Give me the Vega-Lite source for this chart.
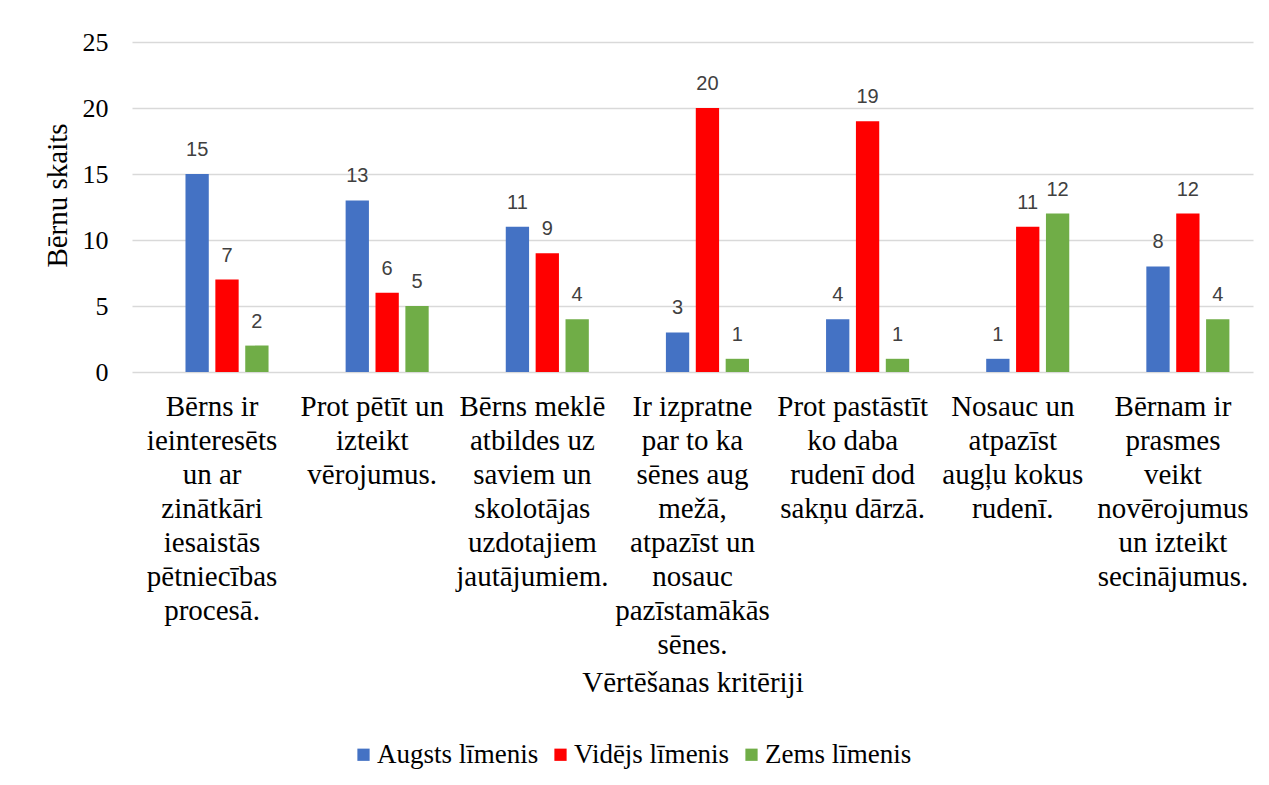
{
  "$schema": "https://vega.github.io/schema/vega-lite/v6.json",
  "autosize": {"type": "none"},
  "width": 1121,
  "height": 330,
  "padding": {"left": 132, "top": 42, "right": 16, "bottom": 413},
  "background": "white",
  "config": {
    "view": {"stroke": null},
    "font": "Liberation Serif"
  },
  "data": {
    "values": [
      {"k": "Bērns ir\nieinteresēts\nun ar\nzinātkāri\niesaistās\npētniecības\nprocesā.", "l": "Augsts līmenis", "v": 15},
      {"k": "Bērns ir\nieinteresēts\nun ar\nzinātkāri\niesaistās\npētniecības\nprocesā.", "l": "Vidējs līmenis", "v": 7},
      {"k": "Bērns ir\nieinteresēts\nun ar\nzinātkāri\niesaistās\npētniecības\nprocesā.", "l": "Zems līmenis", "v": 2},
      {"k": "Prot pētīt un\nizteikt\nvērojumus.", "l": "Augsts līmenis", "v": 13},
      {"k": "Prot pētīt un\nizteikt\nvērojumus.", "l": "Vidējs līmenis", "v": 6},
      {"k": "Prot pētīt un\nizteikt\nvērojumus.", "l": "Zems līmenis", "v": 5},
      {"k": "Bērns meklē\natbildes uz\nsaviem un\nskolotājas\nuzdotajiem\njautājumiem.", "l": "Augsts līmenis", "v": 11},
      {"k": "Bērns meklē\natbildes uz\nsaviem un\nskolotājas\nuzdotajiem\njautājumiem.", "l": "Vidējs līmenis", "v": 9},
      {"k": "Bērns meklē\natbildes uz\nsaviem un\nskolotājas\nuzdotajiem\njautājumiem.", "l": "Zems līmenis", "v": 4},
      {"k": "Ir izpratne\npar to ka\nsēnes aug\nmežā,\natpazīst un\nnosauc\npazīstamākās\nsēnes.", "l": "Augsts līmenis", "v": 3},
      {"k": "Ir izpratne\npar to ka\nsēnes aug\nmežā,\natpazīst un\nnosauc\npazīstamākās\nsēnes.", "l": "Vidējs līmenis", "v": 20},
      {"k": "Ir izpratne\npar to ka\nsēnes aug\nmežā,\natpazīst un\nnosauc\npazīstamākās\nsēnes.", "l": "Zems līmenis", "v": 1},
      {"k": "Prot pastāstīt\nko daba\nrudenī dod\nsakņu dārzā.", "l": "Augsts līmenis", "v": 4},
      {"k": "Prot pastāstīt\nko daba\nrudenī dod\nsakņu dārzā.", "l": "Vidējs līmenis", "v": 19},
      {"k": "Prot pastāstīt\nko daba\nrudenī dod\nsakņu dārzā.", "l": "Zems līmenis", "v": 1},
      {"k": "Nosauc un\natpazīst\naugļu kokus\nrudenī.", "l": "Augsts līmenis", "v": 1},
      {"k": "Nosauc un\natpazīst\naugļu kokus\nrudenī.", "l": "Vidējs līmenis", "v": 11},
      {"k": "Nosauc un\natpazīst\naugļu kokus\nrudenī.", "l": "Zems līmenis", "v": 12},
      {"k": "Bērnam ir\nprasmes\nveikt\nnovērojumus\nun izteikt\nsecinājumus.", "l": "Augsts līmenis", "v": 8},
      {"k": "Bērnam ir\nprasmes\nveikt\nnovērojumus\nun izteikt\nsecinājumus.", "l": "Vidējs līmenis", "v": 12},
      {"k": "Bērnam ir\nprasmes\nveikt\nnovērojumus\nun izteikt\nsecinājumus.", "l": "Zems līmenis", "v": 4}
    ]
  },
  "encoding": {
    "x": {
      "field": "k",
      "type": "nominal",
      "sort": null,
      "scale": {"paddingInner": 0, "paddingOuter": 0},
      "axis": {
        "title": "Vērtēšanas kritēriji",
        "titleFont": "Liberation Serif",
        "titleFontSize": 29,
        "titleFontWeight": "normal",
        "titleColor": "black",
        "titlePadding": 96,
        "labelExpr": "split(datum.label, '\\n')",
        "labelAngle": 0,
        "labelFont": "Liberation Serif",
        "labelFontSize": 29,
        "labelColor": "black",
        "labelLineHeight": 34,
        "labelPadding": 20,
        "labelLimit": 0,
        "labelOverlap": false,
        "ticks": false,
        "domain": false
      }
    },
    "xOffset": {
      "field": "l",
      "type": "nominal",
      "scale": {"domain": ["_", "Augsts līmenis", "Vidējs līmenis", "Zems līmenis"], "paddingInner": 0.22, "paddingOuter": 0.79}
    },
    "y": {
      "field": "v",
      "type": "quantitative",
      "scale": {"domain": [0, 25], "nice": false},
      "axis": {
        "values": [0, 5, 10, 15, 20, 25],
        "title": "Bērnu skaits",
        "titleFont": "Liberation Serif",
        "titleFontSize": 29,
        "titleFontWeight": "normal",
        "titleColor": "black",
        "titlePadding": 10,
        "titleY": 153,
        "labelFont": "Liberation Serif",
        "labelFontSize": 26,
        "labelColor": "black",
        "labelPadding": 24,
        "ticks": false,
        "domain": false,
        "grid": true,
        "gridColor": "#d9d9d9",
        "gridWidth": 1.5
      }
    }
  },
  "layer": [
    {
      "mark": {"type": "bar"},
      "encoding": {
        "color": {
          "field": "l",
          "type": "nominal",
          "scale": {"domain": ["Augsts līmenis", "Vidējs līmenis", "Zems līmenis"], "range": ["#4472C4", "#FF0000", "#70AD47"]},
          "legend": {
            "title": null,
            "orient": "none",
            "direction": "horizontal",
            "legendX": 218,
            "legendY": 699,
            "symbolType": "square",
            "symbolSize": 150,
            "symbolStrokeWidth": 0,
            "labelFont": "Liberation Serif",
            "labelFontSize": 27,
            "labelColor": "black",
            "labelLimit": 400,
            "labelOffset": 0,
            "columnPadding": 8
          }
        }
      }
    },
    {
      "mark": {"type": "text", "baseline": "alphabetic", "dy": -18, "font": "Liberation Sans", "fontSize": 20, "color": "#404040"},
      "encoding": {
        "text": {"field": "v", "type": "quantitative"}
      }
    }
  ]
}
